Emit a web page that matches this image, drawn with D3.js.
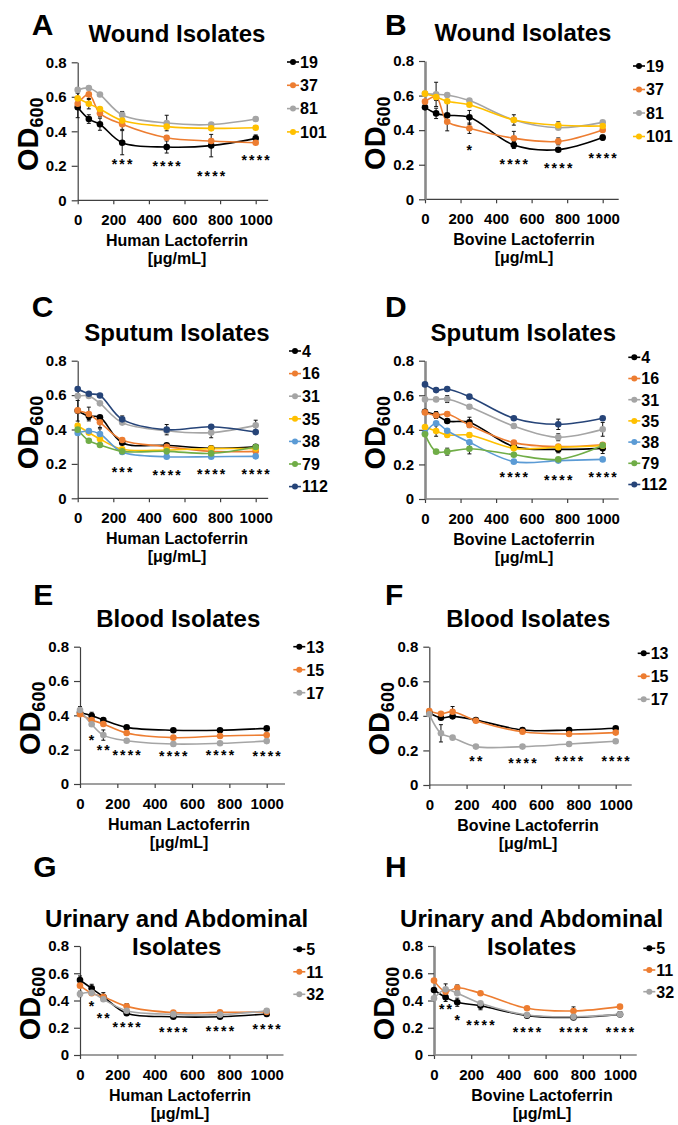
<!DOCTYPE html>
<html><head><meta charset="utf-8">
<script src="https://cdn.jsdelivr.net/npm/d3@7"></script>
<style>
body{margin:0;background:#fff}
svg{display:block}
text{font-family:"Liberation Sans",Arial,sans-serif;font-weight:bold;fill:#000}
</style>
</head><body><svg id="c" width="678" height="1125"></svg>
<script>
// ---------- data ----------
const doses = [0, 62.5, 125, 250, 500, 750, 1000];
const xTicks = [0, 200, 400, 600, 800, 1000];
const yTicks = [0, 0.2, 0.4, 0.6, 0.8];

const woundIsolates = ["19", "37", "81", "101"];
const woundColors = ["#000000", "#ED7D31", "#A5A5A5", "#FFC000"];
const woundHuman = [
  [0.539, 0.471, 0.441, 0.334, 0.309, 0.317, 0.359],
  [0.560, 0.614, 0.504, 0.441, 0.363, 0.344, 0.334],
  [0.640, 0.651, 0.613, 0.495, 0.448, 0.439, 0.471],
  [0.591, 0.560, 0.529, 0.462, 0.427, 0.417, 0.421]];
const woundHumanErr = [
  [0.06, 0.025, 0.035, 0.07, 0.035, 0.065, 0.02],
  [0.01, 0.03, 0.02, 0.03, 0.01, 0.01, 0.01],
  [0.01, 0.01, 0.01, 0.02, 0.045, 0.01, 0.01],
  [0.03, 0.03, 0.01, 0.01, 0.01, 0.01, 0.01]];
const woundHumanStars = ["", "", "", "***", "****", "****", "****"];

const woundBovine = [
  [0.532, 0.497, 0.486, 0.474, 0.314, 0.287, 0.357],
  [0.565, 0.592, 0.449, 0.411, 0.353, 0.335, 0.401],
  [0.611, 0.607, 0.603, 0.571, 0.459, 0.414, 0.445],
  [0.611, 0.592, 0.567, 0.547, 0.459, 0.428, 0.424]];
const woundBovineErr = [
  [0.01, 0.03, 0.09, 0.04, 0.02, 0.01, 0.015],
  [0.01, 0.02, 0.01, 0.03, 0.04, 0.02, 0.01],
  [0.01, 0.07, 0.01, 0.01, 0.01, 0.01, 0.01],
  [0.01, 0.01, 0.01, 0.01, 0.03, 0.02, 0.01]];
const woundBovineStars = ["", "", "", "*", "****", "****", "****"];

const sputumIsolates = ["4", "16", "31", "35", "38", "79", "112"];
const sputumColors = ["#000000", "#ED7D31", "#A5A5A5", "#FFC000", "#5B9BD5", "#70AD47", "#264478"];
const sputumHuman = [
  [0.509, 0.478, 0.471, 0.323, 0.308, 0.291, 0.300],
  [0.511, 0.490, 0.442, 0.339, 0.300, 0.273, 0.273],
  [0.595, 0.595, 0.552, 0.440, 0.393, 0.382, 0.424],
  [0.422, 0.382, 0.345, 0.285, 0.281, 0.289, 0.289],
  [0.380, 0.391, 0.374, 0.269, 0.242, 0.242, 0.244],
  [0.399, 0.335, 0.310, 0.273, 0.273, 0.261, 0.298],
  [0.635, 0.608, 0.598, 0.459, 0.399, 0.416, 0.385]];
const sputumHumanErr = [
  [0.06, 0.02, 0.01, 0.01, 0.01, 0.01, 0.01],
  [0.01, 0.04, 0.03, 0.01, 0.01, 0.01, 0.01],
  [0.01, 0.01, 0.01, 0.01, 0.01, 0.03, 0.03],
  [0.01, 0.01, 0.01, 0.01, 0.01, 0.01, 0.01],
  [0.01, 0.01, 0.03, 0.01, 0.01, 0.01, 0.01],
  [0.01, 0.01, 0.01, 0.01, 0.01, 0.01, 0.01],
  [0.01, 0.01, 0.01, 0.02, 0.03, 0.01, 0.01]];
const sputumHumanStars = ["", "", "", "***", "****", "****", "****"];

const sputumBovine = [
  [0.505, 0.486, 0.451, 0.443, 0.303, 0.287, 0.293],
  [0.501, 0.484, 0.492, 0.428, 0.326, 0.303, 0.314],
  [0.576, 0.576, 0.578, 0.534, 0.422, 0.357, 0.403],
  [0.416, 0.393, 0.370, 0.370, 0.293, 0.299, 0.308],
  [0.380, 0.438, 0.395, 0.328, 0.216, 0.222, 0.229],
  [0.374, 0.274, 0.274, 0.291, 0.256, 0.229, 0.310],
  [0.663, 0.630, 0.636, 0.592, 0.467, 0.432, 0.467]];
const sputumBovineErr = [
  [0.01, 0.02, 0.01, 0.03, 0.01, 0.02, 0.03],
  [0.01, 0.01, 0.01, 0.01, 0.01, 0.01, 0.01],
  [0.01, 0.01, 0.02, 0.01, 0.01, 0.02, 0.04],
  [0.01, 0.03, 0.01, 0.01, 0.01, 0.01, 0.01],
  [0.01, 0.01, 0.01, 0.01, 0.01, 0.01, 0.01],
  [0.01, 0.01, 0.02, 0.03, 0.01, 0.01, 0.01],
  [0.01, 0.01, 0.01, 0.01, 0.01, 0.03, 0.01]];
const sputumBovineStars = ["", "", "", "", "****", "****", "****"];

const bloodIsolates = ["13", "15", "17"];
const threeColors = ["#000000", "#ED7D31", "#A5A5A5"];
const bloodHuman = [
  [0.417, 0.398, 0.373, 0.330, 0.313, 0.313, 0.324],
  [0.406, 0.373, 0.350, 0.297, 0.270, 0.280, 0.285],
  [0.431, 0.348, 0.285, 0.252, 0.233, 0.237, 0.250]];
const bloodHumanErr = [
  [0.01, 0.02, 0.01, 0.01, 0.01, 0.01, 0.01],
  [0.01, 0.02, 0.01, 0.01, 0.01, 0.01, 0.01],
  [0.02, 0.01, 0.03, 0.01, 0.01, 0.01, 0.01]];
const bloodHumanStars = ["", "*", "**", "****", "****", "****", "****"];

const bloodBovine = [
  [0.418, 0.389, 0.397, 0.376, 0.318, 0.318, 0.328],
  [0.428, 0.412, 0.424, 0.372, 0.308, 0.295, 0.303],
  [0.409, 0.299, 0.274, 0.222, 0.222, 0.237, 0.253]];
const bloodBovineErr = [
  [0.01, 0.01, 0.01, 0.01, 0.01, 0.01, 0.01],
  [0.01, 0.01, 0.03, 0.01, 0.01, 0.01, 0.01],
  [0.01, 0.05, 0.01, 0.01, 0.01, 0.01, 0.01]];
const bloodBovineStars = ["", "", "", "**", "****", "****", "****"];

const uaIsolates = ["5", "11", "32"];
const uaHuman = [
  [0.550, 0.489, 0.428, 0.306, 0.281, 0.281, 0.301],
  [0.509, 0.453, 0.428, 0.357, 0.311, 0.313, 0.316],
  [0.448, 0.457, 0.409, 0.325, 0.298, 0.296, 0.325]];
const uaHumanErr = [
  [0.03, 0.03, 0.03, 0.01, 0.01, 0.01, 0.01],
  [0.01, 0.01, 0.01, 0.02, 0.01, 0.01, 0.01],
  [0.02, 0.01, 0.01, 0.01, 0.01, 0.01, 0.01]];
const uaHumanStars = ["", "*", "**", "****", "****", "****", "****"];

const uaBovine = [
  [0.477, 0.423, 0.387, 0.362, 0.289, 0.276, 0.298],
  [0.546, 0.465, 0.494, 0.453, 0.343, 0.323, 0.355],
  [0.416, 0.482, 0.453, 0.379, 0.294, 0.281, 0.298]];
const uaBovineErr = [
  [0.01, 0.03, 0.03, 0.03, 0.01, 0.01, 0.01],
  [0.01, 0.01, 0.02, 0.01, 0.01, 0.03, 0.01],
  [0.01, 0.04, 0.01, 0.01, 0.01, 0.01, 0.01]];
const uaBovineStars = ["", "**", "*", "****", "****", "****", "****"];

// ---------- layout (pixel positions, not data) ----------
const panels = [
  {letter:"A", title:["Wound Isolates"], xlab:"Human Lactoferrin", names:woundIsolates, colors:woundColors, vals:woundHuman, errs:woundHumanErr, stars:woundHumanStars,
   starY:[0,0,0,0.228,0.216,0.160,0.253], x0:77.7, x1:255.7, xMax:1070, yTop:62.3, yBot:200.3, lx:31.7, ly:35, tx:177, ty:[41.7], legX:287, legY:62, legStep:23.3, xtX:177, gray:false},
  {letter:"B", title:["Wound Isolates"], xlab:"Bovine Lactoferrin", names:woundIsolates, colors:woundColors, vals:woundBovine, errs:woundBovineErr, stars:woundBovineStars,
   starY:[0,0,0,0.304,0.222,0.198,0.256], x0:425, x1:602.7, xMax:1090, yTop:61, yBot:199.3, lx:385, ly:35, tx:523, ty:[40.7], legX:633, legY:66, legStep:23.5, xtX:524, gray:true},
  {letter:"C", title:["Sputum Isolates"], xlab:"Human Lactoferrin", names:sputumIsolates, colors:sputumColors, vals:sputumHuman, errs:sputumHumanErr, stars:sputumHumanStars,
   starY:[0,0,0,0.169,0.153,0.157,0.157], x0:77.7, x1:255.7, xMax:1070, yTop:360.7, yBot:498.3, lx:31.7, ly:316.7, tx:177, ty:[340.5], legX:289, legY:351, legStep:22.6, xtX:177, gray:false},
  {letter:"D", title:["Sputum Isolates"], xlab:"Bovine Lactoferrin", names:sputumIsolates, colors:sputumColors, vals:sputumBovine, errs:sputumBovineErr, stars:sputumBovineStars,
   starY:[0,0,0,0,0.143,0.129,0.143], x0:425, x1:602.7, xMax:1090, yTop:360.7, yBot:499, lx:385, ly:316.7, tx:523.3, ty:[340.5], legX:628.3, legY:357.3, legStep:21.2, xtX:524, gray:true},
  {letter:"E", title:["Blood Isolates"], xlab:"Human Lactoferrin", names:bloodIsolates, colors:threeColors, vals:bloodHuman, errs:bloodHumanErr, stars:bloodHumanStars,
   starY:[0,0.276,0.217,0.188,0.179,0.185,0.179], x0:80, x1:266.7, xMax:1098, yTop:646.7, yBot:784, lx:33.3, ly:605, tx:178.3, ty:[626.7], legX:293.3, legY:646.7, legStep:23, xtX:179, gray:false},
  {letter:"F", title:["Blood Isolates"], xlab:"Bovine Lactoferrin", names:bloodIsolates, colors:threeColors, vals:bloodBovine, errs:bloodBovineErr, stars:bloodBovineStars,
   starY:[0,0,0,0.154,0.145,0.158,0.158], x0:429.3, x1:615.7, xMax:1086, yTop:646.7, yBot:785, lx:385, ly:605, tx:528.3, ty:[626.7], legX:637.7, legY:653.3, legStep:23, xtX:528, gray:false},
  {letter:"G", title:["Urinary and Abdominal", "Isolates"], xlab:"Human Lactoferrin", names:uaIsolates, colors:threeColors, vals:uaHuman, errs:uaHumanErr, stars:uaHumanStars,
   starY:[0,0.379,0.294,0.225,0.189,0.196,0.215], x0:80, x1:266.7, xMax:1090, yTop:946, yBot:1055, lx:33.3, ly:876.7, tx:176.7, ty:[927, 955], legX:293.3, legY:949.3, legStep:22.5, xtX:180, gray:false},
  {letter:"H", title:["Urinary and Abdominal", "Isolates"], xlab:"Bovine Lactoferrin", names:uaIsolates, colors:threeColors, vals:uaBovine, errs:uaBovineErr, stars:uaBovineStars,
   starY:[0,0.362,0.281,0.244,0.189,0.189,0.189], x0:434, x1:620, xMax:1090, yTop:946, yBot:1055, lx:385, ly:876.7, tx:531.7, ty:[927, 955], legX:643.3, legY:948.3, legStep:21.7, xtX:542, gray:true}
];

const svg = d3.select("#c");

panels.forEach(p => {
  const g = svg.append("g");
  const x = d3.scaleLinear().domain([0, 1000]).range([p.x0, p.x1]);
  const xEnd = x(p.xMax);
  const y = d3.scaleLinear().domain([0, 0.8]).range([p.yBot, p.yTop]);

  // panel letter
  g.append("text").attr("x", p.lx).attr("y", p.ly).attr("font-size", 30).text(p.letter);
  // title
  p.title.forEach((t, i) => g.append("text").attr("x", p.tx).attr("y", p.ty[i])
    .attr("text-anchor", "middle").attr("font-size", 24).text(t));

  // x axis
  const xa = g.append("g").attr("transform", `translate(0,${p.yBot})`)
    .call(d3.axisBottom(x).tickValues(xTicks).tickFormat(d3.format("d"))
      .tickSize(4).tickSizeOuter(0).tickPadding(10));
  xa.select(".domain").attr("d", `M${p.x0},0H${xEnd}`).attr("stroke", "#404040").attr("stroke-width", 1.2);
  xa.selectAll(".tick line").attr("stroke", "#404040").attr("stroke-width", 1.2);
  xa.selectAll(".tick text").attr("font-size", 15).attr("font-family", null).attr("fill", "#000");

  // y axis
  const ya = g.append("g").attr("transform", `translate(${p.x0},0)`)
    .call(d3.axisLeft(y).tickValues(yTicks).tickFormat(d => d === 0 ? "0" : d3.format(".1f")(d))
      .tickSize(6).tickSizeOuter(0).tickPadding(5));
  ya.select(".domain").attr("stroke", p.gray ? "#8a8a8a" : "#404040").attr("stroke-width", p.gray ? 2.6 : 1.2);
  ya.selectAll(".tick line").attr("stroke", "#404040").attr("stroke-width", 1.2);
  ya.selectAll(".tick text").attr("font-size", 15).attr("font-family", null).attr("fill", "#000");

  // y axis label OD600
  const yc = (p.yTop + p.yBot) / 2 + 3;
  const yl = g.append("text").attr("text-anchor", "middle")
    .attr("transform", `translate(${p.x0 - 40},${yc}) rotate(-90)`).attr("font-size", 29);
  yl.append("tspan").text("OD");
  yl.append("tspan").attr("font-size", 18).attr("dy", 5).text("600");

  // x axis title
  g.append("text").attr("x", p.xtX).attr("y", p.yBot + 45.5).attr("text-anchor", "middle").attr("font-size", 16).text(p.xlab);
  g.append("text").attr("x", p.xtX).attr("y", p.yBot + 64).attr("text-anchor", "middle").attr("font-size", 16).text("[\u03bcg/mL]");

  const line = d3.line().x((d, i) => x(doses[i])).y(d => y(d)).curve(d3.curveCatmullRom.alpha(0.5));

  // series lines
  p.vals.forEach((s, k) => {
    g.append("path").attr("d", line(s)).attr("fill", "none")
      .attr("stroke", p.colors[k]).attr("stroke-width", 1.6);
  });
  // error bars
  p.vals.forEach((s, k) => {
    s.forEach((v, i) => {
      const e = p.errs[k][i];
      const cx = x(doses[i]);
      const eg = g.append("g").attr("stroke", "#111").attr("stroke-width", 1);
      eg.append("line").attr("x1", cx).attr("x2", cx).attr("y1", y(v - e)).attr("y2", y(v + e));
      eg.append("line").attr("x1", cx - 2).attr("x2", cx + 2).attr("y1", y(v + e)).attr("y2", y(v + e));
      eg.append("line").attr("x1", cx - 2).attr("x2", cx + 2).attr("y1", y(v - e)).attr("y2", y(v - e));
    });
  });
  // markers
  p.vals.forEach((s, k) => {
    g.selectAll(null).data(s).enter().append("circle")
      .attr("cx", (d, i) => x(doses[i])).attr("cy", d => y(d)).attr("r", 3.3)
      .attr("fill", p.colors[k]);
  });

  // significance stars
  p.stars.forEach((st, i) => {
    if (!st) return;
    g.append("text").attr("x", x(doses[i]) + 1).attr("y", y(p.starY[i]) + 8)
      .attr("text-anchor", "middle").attr("font-size", 14).attr("font-weight", "normal")
      .attr("letter-spacing", 2.2).text(st);
  });

  // legend
  p.names.forEach((n, k) => {
    const ly = p.legY + k * p.legStep;
    g.append("line").attr("x1", p.legX).attr("x2", p.legX + 12).attr("y1", ly).attr("y2", ly)
      .attr("stroke", p.colors[k]).attr("stroke-width", 1.6);
    g.append("circle").attr("cx", p.legX + 6).attr("cy", ly).attr("r", 3).attr("fill", p.colors[k]);
    g.append("text").attr("x", p.legX + 13).attr("y", ly + 5.8).attr("font-size", 16).text(n);
  });
});
</script>
</body></html>
